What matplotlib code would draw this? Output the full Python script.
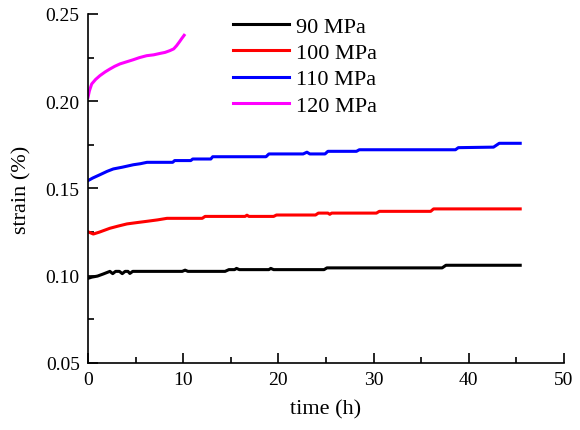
import matplotlib.pyplot as plt
from matplotlib.ticker import MultipleLocator, FormatStrFormatter

plt.rcParams['font.family'] = ['Liberation Serif', 'DejaVu Serif']

# 90 MPa
t_90 = [0.0, 0.4, 1.0, 1.6, 2.3, 2.6, 2.9, 3.3, 3.6, 3.9, 4.2, 4.4, 4.7, 9.9, 10.2, 10.5,
        14.4, 14.8, 15.4, 15.6, 15.9, 19.0, 19.2, 19.5, 24.8, 25.1, 37.2, 37.6, 45.4]
s_90 = [0.0985, 0.0992, 0.0998, 0.1010, 0.1025, 0.1012, 0.1025, 0.1025, 0.1012, 0.1025, 0.1025,
        0.1013, 0.1025, 0.1025, 0.1032, 0.1025, 0.1025, 0.1035, 0.1035, 0.1042, 0.1035, 0.1035,
        0.1042, 0.1035, 0.1035, 0.1045, 0.1045, 0.1060, 0.1060]

# 100 MPa
t_100 = [0.0, 0.56, 1.2, 2.3, 3.2, 4.1, 5.2, 6.2, 7.3, 8.3, 12.0, 12.3, 16.5, 16.7, 16.9,
         19.5, 19.8, 23.9, 24.2, 25.2, 25.4, 25.6, 30.3, 30.6, 36.0, 36.3, 45.4]
s_100 = [0.1252, 0.1239, 0.1250, 0.1272, 0.1285, 0.1297, 0.1305, 0.1312, 0.1320, 0.1329,
         0.1329, 0.1340, 0.1340, 0.1347, 0.1340, 0.1340, 0.1348, 0.1348, 0.1359, 0.1359,
         0.1352, 0.1359, 0.1359, 0.1369, 0.1369, 0.1383, 0.1383]

# 110 MPa
t_110 = [0.0, 0.5, 1.26, 2.0, 2.66, 3.6, 4.76, 5.5, 6.2, 8.9, 9.1, 10.8, 11.0, 12.9, 13.1,
         18.7, 19.0, 22.6, 23.0, 23.3, 24.9, 25.2, 28.2, 28.5, 38.6, 38.9, 42.6, 43.2, 45.4]
s_110 = [0.1545, 0.1560, 0.1579, 0.1598, 0.1612, 0.1622, 0.1636, 0.1642, 0.1650, 0.1650,
         0.1660, 0.1660, 0.1669, 0.1669, 0.1682, 0.1682, 0.1698, 0.1698, 0.1708, 0.1698,
         0.1698, 0.1713, 0.1713, 0.1722, 0.1722, 0.1734, 0.1737, 0.1759, 0.1759]

# 120 MPa
t_120 = [0.0, 0.15, 0.39, 0.8, 1.26, 1.8, 2.31, 2.8, 3.36, 4.0, 4.76, 5.4, 6.16, 6.9, 7.56,
         8.1, 8.6, 9.0, 9.3, 9.6, 9.83, 10.1]
s_120 = [0.2023, 0.2060, 0.2099, 0.2125, 0.2147, 0.2168, 0.2185, 0.2200, 0.2214, 0.2225,
         0.2238, 0.2250, 0.2261, 0.2266, 0.2274, 0.2280, 0.2290, 0.2300, 0.2318, 0.2340,
         0.2358, 0.2378]

series = [(t_90, s_90, '90 MPa', 'black'),
          (t_100, s_100, '100 MPa', 'red'),
          (t_110, s_110, '110 MPa', 'blue'),
          (t_120, s_120, '120 MPa', 'magenta')]

fig = plt.figure(figsize=(5.8, 4.31), dpi=100)
ax = fig.add_axes([0.1517, 0.1555, 0.8207, 0.8097])

for t, s, label, color in series:
    ax.plot(t, s, color=color, lw=2.2, label=label)

ax.set_xlim(0, 50)
ax.set_ylim(0.05, 0.25)
ax.xaxis.set_major_locator(MultipleLocator(10))
ax.xaxis.set_minor_locator(MultipleLocator(5))
ax.yaxis.set_major_locator(MultipleLocator(0.05))
ax.yaxis.set_minor_locator(MultipleLocator(0.025))
ax.yaxis.set_major_formatter(FormatStrFormatter('%.2f'))
ax.tick_params(which='major', direction='in', length=7, width=1.2, labelsize=14, pad=6)
ax.tick_params(which='minor', direction='in', length=4, width=1.2)
for side in ['top', 'right']:
    ax.spines[side].set_visible(False)
for side in ['left', 'bottom']:
    ax.spines[side].set_linewidth(1.2)

ax.set_xlabel('time (h)', fontsize=16, labelpad=8)
ax.set_ylabel('strain (%)', fontsize=16, labelpad=10)

ax.legend(loc='upper left', bbox_to_anchor=(0.3046, 0.994), frameon=False, fontsize=16,
          handlelength=2.5, handletextpad=0.33, labelspacing=0.26, borderpad=0,
          borderaxespad=0)

fig.savefig('out.png', dpi=100)
